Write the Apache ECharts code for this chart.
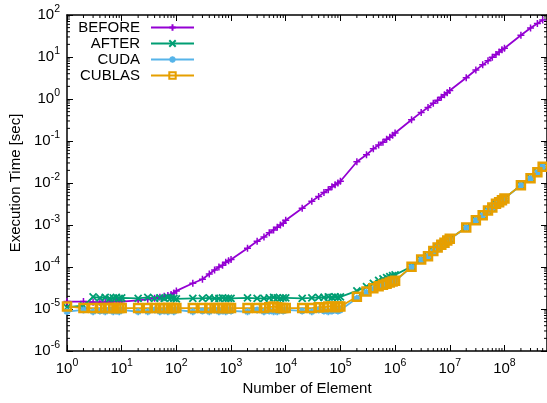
<!DOCTYPE html>
<html>
<head>
<meta charset="utf-8">
<script src="https://cdn.jsdelivr.net/npm/echarts@6/dist/echarts.min.js"></script>
<style>
  html, body { margin: 0; padding: 0; background: #fff; }
  #chart { width: 547px; height: 403px; }
</style>
</head>
<body>
<div id="chart"></div>
<script>
// problem sizes: 1..9 x 10^k
const elements = [
  1, 2, 3, 4, 5, 6, 7, 8, 9,
  10, 20, 30, 40, 50, 60, 70, 80, 90,
  100, 200, 300, 400, 500, 600, 700, 800, 900,
  1e3, 2e3, 3e3, 4e3, 5e3, 6e3, 7e3, 8e3, 9e3,
  1e4, 2e4, 3e4, 4e4, 5e4, 6e4, 7e4, 8e4, 9e4,
  1e5, 2e5, 3e5, 4e5, 5e5, 6e5, 7e5, 8e5, 9e5,
  1e6, 2e6, 3e6, 4e6, 5e6, 6e6, 7e6, 8e6, 9e6,
  1e7, 2e7, 3e7, 4e7, 5e7, 6e7, 7e7, 8e7, 9e7,
  1e8, 2e8, 3e8, 4e8, 5e8
];

const before = [
  1.5e-5, 1.5e-5, 1.45e-5, 1.45e-5, 1.45e-5, 1.45e-5, 1.5e-5, 1.5e-5, 1.5e-5,
  1.5e-5, 1.6e-5, 1.7e-5, 1.8e-5, 1.9e-5, 2.0e-5, 2.1e-5, 2.2e-5, 2.4e-5,
  2.7e-5, 4.1e-5, 5.1e-5, 6.8e-5, 8.5e-5, 1.0e-4, 1.1e-4, 1.3e-4, 1.4e-4,
  1.5e-4, 2.8e-4, 4.1e-4, 5.2e-4, 6.5e-4, 7.6e-4, 8.9e-4, 1.0e-3, 1.1e-3,
  1.3e-3, 2.5e-3, 3.7e-3, 4.8e-3, 5.9e-3, 6.9e-3, 8.1e-3, 9.1e-3, 1.0e-2,
  1.1e-2, 3.2e-2, 4.7e-2, 6.5e-2, 8.0e-2, 9.3e-2, 0.11, 0.123, 0.138,
  0.155, 0.32, 0.48, 0.63, 0.79, 0.93, 1.1, 1.26, 1.41,
  1.6, 3.2, 4.9, 6.5, 8.1, 9.8, 11.5, 13.2, 14.8,
  16.2, 33, 49, 63, 76
];

const after = [
  1.1e-5, 1.2e-5, 1.95e-5, 1.85e-5, 1.9e-5, 1.8e-5, 1.85e-5, 1.9e-5, 1.8e-5,
  1.85e-5, 1.8e-5, 1.9e-5, 1.8e-5, 1.85e-5, 1.8e-5, 1.9e-5, 1.85e-5, 1.8e-5,
  1.75e-5, 1.8e-5, 1.8e-5, 1.85e-5, 1.8e-5, 1.8e-5, 1.85e-5, 1.8e-5, 1.8e-5,
  1.8e-5, 1.85e-5, 1.8e-5, 1.8e-5, 1.85e-5, 1.9e-5, 1.85e-5, 1.8e-5, 1.85e-5,
  1.85e-5, 1.8e-5, 1.85e-5, 1.9e-5, 1.9e-5, 1.95e-5, 1.9e-5, 1.95e-5, 1.9e-5,
  1.95e-5, 2.7e-5, 3.4e-5, 4.1e-5, 4.8e-5, 5.2e-5, 5.6e-5, 5.9e-5, 6.2e-5,
  6.5e-5, 1.03e-4, 1.5e-4, 1.8e-4, 2.4e-4, 2.9e-4, 3.4e-4, 3.8e-4, 4.3e-4,
  4.7e-4, 8.7e-4, 1.3e-3, 1.7e-3, 2.2e-3, 2.6e-3, 3.2e-3, 3.5e-3, 3.9e-3,
  4.3e-3, 8.9e-3, 1.3e-2, 1.8e-2, 2.45e-2
];

const cuda = [
  8.7e-6, 9.5e-6, 8.6e-6, 9.0e-6, 8.6e-6, 9.5e-6, 8.6e-6, 9.0e-6, 8.6e-6,
  9.5e-6, 8.6e-6, 8.6e-6, 9.5e-6, 8.6e-6, 9.0e-6, 8.6e-6, 9.5e-6, 8.6e-6,
  9.5e-6, 8.6e-6, 9.0e-6, 8.6e-6, 9.5e-6, 8.6e-6, 9.0e-6, 8.6e-6, 9.5e-6,
  9.0e-6, 8.6e-6, 9.5e-6, 8.6e-6, 9.0e-6, 8.6e-6, 8.6e-6, 9.5e-6, 9.0e-6,
  9.5e-6, 9.0e-6, 8.6e-6, 9.5e-6, 9.0e-6, 8.6e-6, 9.0e-6, 9.5e-6, 9.0e-6,
  9.5e-6, 1.8e-5, 2.5e-5, 3.0e-5, 3.4e-5, 3.7e-5, 3.9e-5, 4.2e-5, 4.4e-5,
  4.6e-5, 1.0e-4, 1.48e-4, 1.78e-4, 2.35e-4, 2.85e-4, 3.35e-4, 3.75e-4, 4.25e-4,
  4.65e-4, 8.6e-4, 1.28e-3, 1.68e-3, 2.18e-3, 2.58e-3, 3.15e-3, 3.45e-3, 3.85e-3,
  4.25e-3, 8.8e-3, 1.28e-2, 1.78e-2, 2.42e-2
];

const cublas = [
  1.15e-5, 1.05e-5, 1.05e-5, 1.05e-5, 1.05e-5, 1.05e-5, 1.05e-5, 1.05e-5, 1.05e-5,
  1.05e-5, 1.05e-5, 1.05e-5, 1.05e-5, 1.05e-5, 1.05e-5, 1.05e-5, 1.05e-5, 1.05e-5,
  1.05e-5, 1.05e-5, 1.05e-5, 1.05e-5, 1.05e-5, 1.05e-5, 1.05e-5, 1.05e-5, 1.05e-5,
  1.05e-5, 1.05e-5, 1.05e-5, 1.05e-5, 1.1e-5, 1.15e-5, 1.1e-5, 1.05e-5, 1.05e-5,
  1.05e-5, 1.05e-5, 1.05e-5, 1.1e-5, 1.1e-5, 1.15e-5, 1.15e-5, 1.1e-5, 1.15e-5,
  1.15e-5, 1.95e-5, 2.6e-5, 3.1e-5, 3.5e-5, 3.8e-5, 4.0e-5, 4.3e-5, 4.5e-5,
  4.7e-5, 1.02e-4, 1.5e-4, 1.8e-4, 2.4e-4, 2.9e-4, 3.4e-4, 3.8e-4, 4.3e-4,
  4.7e-4, 8.7e-4, 1.3e-3, 1.7e-3, 2.2e-3, 2.6e-3, 3.2e-3, 3.5e-3, 3.9e-3,
  4.3e-3, 8.9e-3, 1.3e-2, 1.8e-2, 2.45e-2
];

const seriesNames = ['BEFORE', 'AFTER', 'CUDA', 'CUBLAS'];
const xMin = 1, xMax = 6e8;
const yMin = 1e-6, yMax = 1e2;

const font = '"Liberation Sans", Arial, sans-serif';
const black = '#000';

const chart = echarts.init(document.getElementById('chart'));

function pairs(ys) {
  return elements.map((x, i) => [x, ys[i]]);
}

// 10^n label as rich text
function powLabel(v) {
  const e = Math.log10(v);
  const r = Math.round(e);
  if (Math.abs(e - r) > 0.01) return '';
  return '{b|10}{e|' + r + '}';
}

const labelRich = {
  b: { fontSize: 15, fontFamily: font, color: black },
  e: { fontSize: 10.5, fontFamily: font, color: black, padding: [0, 0, 11, 0] }
};

const tickStyle = { inside: true, length: 6, lineStyle: { color: black, width: 1 } };
const lineStyleAxis = { show: true, onZero: false, lineStyle: { color: black, width: 1.5 } };

const plus = 'path://M0,5 L10,5 M5,0 L5,10';
const cross = 'path://M0,0 L10,10 M10,0 L0,10';
const star = 'path://M0,5 L10,5 M5,0 L5,10 M1.5,1.5 L8.5,8.5 M8.5,1.5 L1.5,8.5';
const square = 'path://M0,0 L10,0 L10,10 L0,10 Z';

function lineSeries(name, ys, color, symbol, size, bw) {
  return {
    name,
    type: 'line',
    data: pairs(ys),
    symbol,
    symbolSize: size,
    showSymbol: true,
    showAllSymbol: true,
    color,
    lineStyle: { color, width: 1.8 },
    itemStyle: { color: 'rgba(0,0,0,0)', borderColor: color, borderWidth: bw },
    emphasis: { disabled: true },
    animation: false
  };
}

const option = {
  animation: false,
  grid: { left: 67, right: 0, top: 15, bottom: 52, containLabel: false },
  legend: {
    orient: 'vertical',
    align: 'right',
    left: 71,
    top: 15,
    itemWidth: 43,
    itemHeight: 8,
    itemGap: 1,
    data: seriesNames,
    formatter: name => '{n|' + name + '}',
    textStyle: {
      rich: { n: { width: 64, align: 'right', fontSize: 15, fontFamily: font, color: black, padding: [0, 6, 0, 0], lineHeight: 16 } }
    }
  },
  xAxis: [{
    type: 'log',
    min: xMin,
    max: xMax,
    splitNumber: 9,
    position: 'bottom',
    name: 'Number of Element',
    nameLocation: 'middle',
    nameGap: 28,
    nameTextStyle: { fontSize: 15, fontFamily: font, color: black },
    axisLine: lineStyleAxis,
    axisTick: tickStyle,
    axisLabel: { margin: 7, formatter: powLabel, rich: labelRich, showMaxLabel: false },
    splitLine: { show: false }
  }, {
    type: 'log',
    min: xMin,
    max: xMax,
    splitNumber: 9,
    position: 'top',
    axisLine: lineStyleAxis,
    axisTick: tickStyle,
    axisLabel: { show: false },
    splitLine: { show: false }
  }],
  yAxis: [{
    type: 'log',
    min: yMin,
    max: yMax,
    splitNumber: 8,
    position: 'left',
    name: 'Execution Time [sec]',
    nameLocation: 'middle',
    nameGap: 38,
    nameTextStyle: { fontSize: 15, fontFamily: font, color: black },
    axisLine: lineStyleAxis,
    axisTick: tickStyle,
    axisLabel: { margin: 7, formatter: powLabel, rich: labelRich },
    splitLine: { show: false }
  }, {
    type: 'log',
    min: yMin,
    max: yMax,
    splitNumber: 8,
    position: 'right',
    axisLine: lineStyleAxis,
    axisTick: tickStyle,
    axisLabel: { show: false },
    splitLine: { show: false }
  }],
  series: [
    lineSeries('BEFORE', before, '#9400d3', plus, 7, 1.5),
    lineSeries('AFTER', after, '#009e73', cross, 7, 1.8),
    lineSeries('CUDA', cuda, '#56b4e9', star, 7, 1.8),
    lineSeries('CUBLAS', cublas, '#e69f00', square, 8, 2.5)
  ]
};

chart.setOption(option);

// gnuplot-style minor ticks at 2..9 on every side of the border
function minorTicks() {
  const bottom = chart.convertToPixel({ yAxisIndex: 0 }, yMin);
  const top = chart.convertToPixel({ yAxisIndex: 0 }, yMax);
  const left = chart.convertToPixel({ xAxisIndex: 0 }, xMin);
  const right = chart.convertToPixel({ xAxisIndex: 0 }, xMax);
  const len = 3;
  const els = [];
  const seg = (x1, y1, x2, y2) => els.push({
    type: 'line',
    shape: { x1, y1, x2, y2 },
    style: { stroke: black, lineWidth: 1 },
    silent: true
  });
  for (let k = 0; k <= 8; k++) {
    for (let d = 2; d <= 9; d++) {
      const v = d * Math.pow(10, k);
      if (v >= xMax) continue;
      const px = chart.convertToPixel({ xAxisIndex: 0 }, v);
      seg(px, bottom, px, bottom - len);
      seg(px, top, px, top + len);
    }
  }
  for (let k = -6; k < 2; k++) {
    for (let d = 2; d <= 9; d++) {
      const py = chart.convertToPixel({ yAxisIndex: 0 }, d * Math.pow(10, k));
      seg(left, py, left + len, py);
      seg(right, py, right - len, py);
    }
  }
  return els;
}

chart.setOption({ graphic: minorTicks() });
</script>
</body>
</html>
